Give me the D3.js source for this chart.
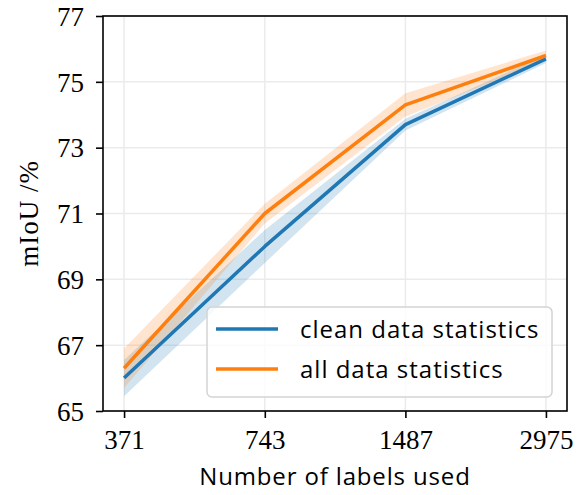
<!DOCTYPE html>
<html><head><meta charset="utf-8">
<script src="https://cdn.jsdelivr.net/npm/d3@7"></script>
<style>body{margin:0;background:#fff}svg{display:block}</style>
</head><body>
<svg id="c" width="583" height="495"></svg>
<script>
const labels = [371, 743, 1487, 2975];
const yTicks = [65, 67, 69, 71, 73, 75, 77];
const seriesNames = ["clean data statistics", "all data statistics"];
const cleanMean = [66.0, 70.0, 73.7, 75.7];
const cleanErr = [0.55, 0.5, 0.18, 0.13];
const allMean = [66.3, 71.0, 74.3, 75.8];
const allErr = [0.6, 0.3, 0.35, 0.15];
const colors = ["#1f77b4", "#ff7f0e"];

const svg = d3.select("#c");
const L = 103, R = 567, T = 16, B = 411;
const pad = Math.pow(2, 0.15);
const x = d3.scaleLog().base(2).domain([labels[0] / pad, labels[3] * pad]).range([L, R]);
const y = d3.scaleLinear().domain([65, 77]).range([B, T]);

// grid
const g = svg.append("g");
g.selectAll(".gx").data(labels).enter().append("line")
  .attr("x1", d => x(d)).attr("x2", d => x(d)).attr("y1", T).attr("y2", B)
  .attr("stroke", "#ebebeb").attr("stroke-width", 1.5);
g.selectAll(".gy").data(yTicks).enter().append("line")
  .attr("x1", L).attr("x2", R).attr("y1", d => y(d)).attr("y2", d => y(d))
  .attr("stroke", "#ebebeb").attr("stroke-width", 1.5);

const series = [
  {mean: cleanMean, err: cleanErr, color: colors[0]},
  {mean: allMean, err: allErr, color: colors[1]}
];
const area = d3.area().x(d => x(d.x)).y0(d => y(d.m - d.e)).y1(d => y(d.m + d.e));
const line = d3.line().x(d => x(d.x)).y(d => y(d.m));
series.forEach(s => {
  const pts = labels.map((l, i) => ({x: l, m: s.mean[i], e: s.err[i]}));
  svg.append("path").datum(pts).attr("d", area).attr("fill", s.color).attr("fill-opacity", 0.2);
});
series.forEach(s => {
  const pts = labels.map((l, i) => ({x: l, m: s.mean[i], e: s.err[i]}));
  svg.append("path").datum(pts).attr("d", line).attr("fill", "none")
    .attr("stroke", s.color).attr("stroke-width", 3.5).attr("stroke-linejoin", "round");
});

// axes
const xAxis = d3.axisBottom(x).tickValues(labels).tickFormat(d3.format("d")).tickSize(7).tickPadding(12);
const yAxis = d3.axisLeft(y).tickValues(yTicks).tickFormat(d3.format("d")).tickSize(7).tickPadding(12);
const gx = svg.append("g").attr("transform", `translate(0,${B})`).call(xAxis);
const gy = svg.append("g").attr("transform", `translate(${L},0)`).call(yAxis);
[gx, gy].forEach(a => {
  a.select(".domain").remove();
  a.selectAll(".tick line").attr("stroke", "#000").attr("stroke-width", 1.6);
  a.selectAll(".tick text").attr("fill", "#000")
    .style("font-family", "'Liberation Serif', serif").style("font-size", "27px");
});
gx.selectAll(".tick text").attr("dy", "0.72em");
gy.selectAll(".tick text").attr("dy", "0.34em");

// spines
svg.append("rect").attr("x", L).attr("y", T).attr("width", R - L).attr("height", B - T)
  .attr("fill", "none").attr("stroke", "#000").attr("stroke-width", 1.6);

// labels
svg.append("text").attr("x", (L + R) / 2).attr("y", 485).attr("text-anchor", "middle")
  .style("font-family", "'Open Sans', sans-serif").style("font-size", "24px")
  .style("letter-spacing", "0.85px").text("Number of labels used");
svg.append("text").attr("transform", `translate(38,${(T + B) / 2}) rotate(-90)`).attr("text-anchor", "middle")
  .style("font-family", "'Liberation Serif', serif").style("font-size", "27px")
  .style("letter-spacing", "1px").text("mIoU /%");

// legend
const lg = svg.append("g");
lg.append("rect").attr("x", 207).attr("y", 307).attr("width", 345).attr("height", 90).attr("rx", 5)
  .attr("fill", "#fff").attr("fill-opacity", 0.8).attr("stroke", "#d3d3d3").attr("stroke-width", 1.5);
seriesNames.forEach((n, i) => {
  const yy = 329 + i * 40;
  lg.append("line").attr("x1", 216).attr("x2", 278).attr("y1", yy).attr("y2", yy)
    .attr("stroke", colors[i]).attr("stroke-width", 3.5);
  lg.append("text").attr("x", 300).attr("y", yy + 9)
    .style("font-family", "'Open Sans', sans-serif").style("font-size", "24px")
    .style("letter-spacing", "1px").text(n);
});
</script>
</body></html>
